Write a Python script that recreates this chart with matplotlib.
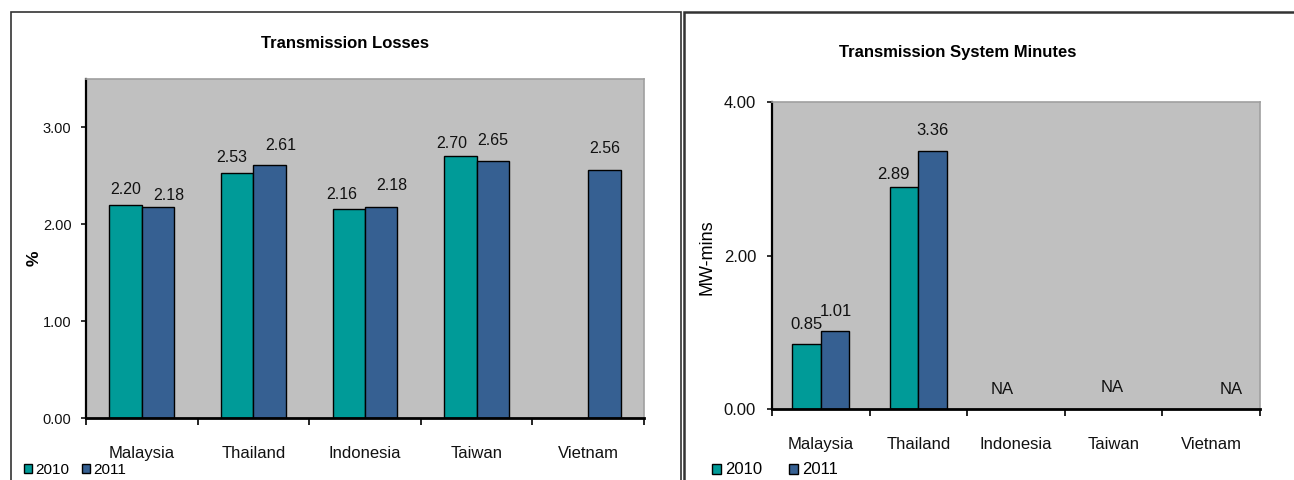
"""Transmission losses and transmission system minutes, 2010 vs 2011."""

import matplotlib

matplotlib.use("Agg")
import matplotlib.pyplot as plt
import numpy as np
from matplotlib.patches import Rectangle

countries = ["Malaysia", "Thailand", "Indonesia", "Taiwan", "Vietnam"]
years = ["2010", "2011"]

losses_2010 = [2.20, 2.53, 2.16, 2.70, np.nan]
losses_2011 = [2.18, 2.61, 2.18, 2.65, 2.56]

minutes_2010 = [0.85, 2.89, np.nan, np.nan, np.nan]
minutes_2011 = [1.01, 3.36, np.nan, np.nan, np.nan]

TEAL = "#009b98"
BLUE = "#366092"
PLOT_BG = "#c0c0c0"
SANS = ["Liberation Sans", "DejaVu Sans"]

W, H = 1294, 480
BAR_W = 0.29

# label nudges in pixels (dx, dy above bar top), hand-placed per bar
loss_nudge_2010 = [(0, 8), (-5, 8), (-7, 7), (-9, 5), (0, 0)]
loss_nudge_2011 = [(11, 4), (11, 12), (11, 14), (0, 13), (0, 14)]
min_nudge_2010 = [(0, 12), (-11, 5)]
min_nudge_2011 = [(1, 12), (0, 13)]
na_nudge = {2: (-14, 19), 3: (-1, 22), 4: (20, 19)}


def px_axes(fig, x0, y0, x1, y1):
    # axes placed by pixel box (top-left origin)
    return fig.add_axes([x0 / W, (H - y1) / H, (x1 - x0) / W, (y1 - y0) / H])


def style_axes(ax, ymax, yticks, ytick_size, xlab_size, xlab_pad, ytick_pad):
    ax.set_facecolor(PLOT_BG)
    ax.set_xlim(-0.5, len(countries) - 0.5)
    ax.set_ylim(0, ymax)
    ax.set_yticks(yticks)
    ax.set_yticklabels([f"{v:.2f}" for v in yticks], family=SANS, fontsize=ytick_size)
    ax.set_xticks(np.arange(len(countries) + 1) - 0.5)
    ax.set_xticklabels([])
    ax.set_xticks(np.arange(len(countries)), minor=True)
    ax.set_xticklabels(countries, minor=True, family=SANS, fontsize=xlab_size)
    ax.tick_params(axis="x", which="major", direction="out", length=5, width=1.2)
    ax.tick_params(axis="x", which="minor", length=0, pad=xlab_pad, colors="#111111")
    ax.tick_params(axis="y", direction="out", length=3.5, width=1.2, pad=ytick_pad,
                   colors="#111111")
    ax.spines["left"].set_linewidth(1.6)
    ax.spines["bottom"].set_linewidth(2.0)
    for side in ("top", "right"):
        ax.spines[side].set_color("#a0a0a0")
        ax.spines[side].set_linewidth(1.2)


def draw_bars(ax, v10, v11):
    x = np.arange(len(countries))
    ax.bar(x - BAR_W / 2, v10, BAR_W, color=TEAL, edgecolor="black", linewidth=1,
           label=years[0])
    ax.bar(x + BAR_W / 2, v11, BAR_W, color=BLUE, edgecolor="black", linewidth=1,
           label=years[1])
    return x


def label_bars(ax, xs, vals, nudges, size):
    for xi, v, (dx, dy) in zip(xs, vals, nudges):
        if np.isnan(v):
            continue
        ax.annotate(f"{v:.2f}", (xi, v), xytext=(dx * 0.72, dy * 0.72),
                    textcoords="offset points", ha="center", va="bottom",
                    family=SANS, fontsize=size, color="#111111")


fig = plt.figure(figsize=(W / 100, H / 100), dpi=100)

# panel frames
fig.add_artist(Rectangle((11 / W, -0.1), (681 - 11) / W, 1.1 - 12 / H, transform=fig.transFigure,
                         fill=False, edgecolor="#333333", linewidth=1.2))
fig.add_artist(Rectangle((684 / W, -0.1), 0.9, 1.1 - 12 / H, transform=fig.transFigure,
                         fill=False, edgecolor="#333333", linewidth=1.8))

# left: transmission losses
ax1 = px_axes(fig, 86, 79, 644, 418)
style_axes(ax1, 3.5, [0.0, 1.0, 2.0, 3.0], 10.5, 12, 20, 7)
x = draw_bars(ax1, losses_2010, losses_2011)
label_bars(ax1, x - BAR_W / 2, losses_2010, loss_nudge_2010, 11.5)
label_bars(ax1, x + BAR_W / 2, losses_2011, loss_nudge_2011, 11.5)
ax1.set_ylabel("%", family=SANS, fontsize=12.5, fontweight="bold")
ax1.yaxis.set_label_coords(-0.079, 0.47)
fig.text(345 / W, 1 - 43 / H, "Transmission Losses", ha="center", va="center",
         family=SANS, fontsize=12, fontweight="bold")
fig.legend(*ax1.get_legend_handles_labels(), loc="center left",
           bbox_to_anchor=(24 / W, 1 - 470 / H), ncol=2, frameon=False,
           prop={"family": SANS, "size": 11}, handlelength=0.55, handleheight=0.55,
           handletextpad=0.2, columnspacing=0.8, borderpad=0, borderaxespad=0)

# right: transmission system minutes
ax2 = px_axes(fig, 772, 102, 1260, 409)
style_axes(ax2, 4.0, [0.0, 2.0, 4.0], 12, 12, 20.5, 8)
x = draw_bars(ax2, minutes_2010, minutes_2011)
label_bars(ax2, x[:2] - BAR_W / 2, minutes_2010[:2], min_nudge_2010, 12)
label_bars(ax2, x[:2] + BAR_W / 2, minutes_2011[:2], min_nudge_2011, 12)
for i, (dx, dy) in na_nudge.items():
    ax2.annotate("NA", (i, 0), xytext=(dx * 0.72, dy * 0.72), textcoords="offset points",
                 ha="center", va="center", family=SANS, fontsize=12, color="#111111")
ax2.set_ylabel("MW-mins", family=SANS, fontsize=13)
ax2.yaxis.set_label_coords(-0.115, 0.495)
fig.text(958 / W, 1 - 52 / H, "Transmission System Minutes", ha="center", va="center",
         family=SANS, fontsize=12, fontweight="bold")
fig.legend(*ax2.get_legend_handles_labels(), loc="center left",
           bbox_to_anchor=(712 / W, 1 - 470 / H), ncol=2, frameon=False,
           prop={"family": SANS, "size": 12}, handlelength=0.55, handleheight=0.55,
           handletextpad=0.25, columnspacing=1.6, borderpad=0, borderaxespad=0)

fig.savefig("out.png", dpi=100, facecolor="white")
plt.close(fig)
